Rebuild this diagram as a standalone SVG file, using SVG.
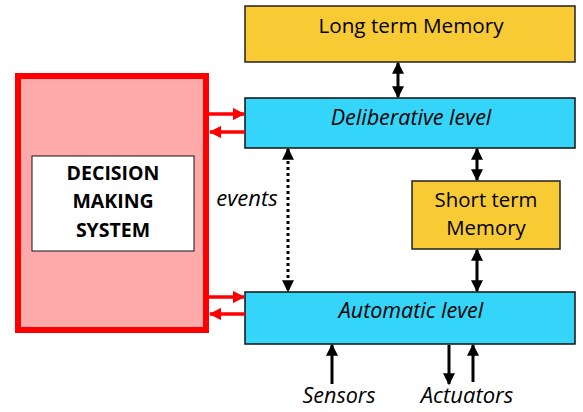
<svg xmlns="http://www.w3.org/2000/svg" width="583" height="412" viewBox="0 0 583 412">
<defs>
<marker id="ah" viewBox="0 0 10 10" refX="9" refY="5" markerWidth="4" markerHeight="4" orient="auto-start-reverse"><path d="M0,0 L10,5 L0,10 z" fill="#000"/></marker>
<marker id="ar" viewBox="0 0 10 10" refX="9" refY="5" markerWidth="3.5" markerHeight="3.5" orient="auto"><path d="M0,0 L10,5 L0,10 z" fill="#f00"/></marker>
<style>
.mem{fill:#F8CB35;stroke:#222;stroke-width:1.5}
.lvl{fill:#35D5FA;stroke:#111;stroke-width:1.5}
.t{font-family:"Open Sans","Liberation Sans",sans-serif;fill:#000;text-anchor:middle}
.i{font-style:italic}
.b{stroke:#000;stroke-width:3;fill:none}
.r{stroke:#f00;stroke-width:3.5;fill:none}
</style>
</defs>
<g id="dms">
<rect x="18" y="76" width="188" height="254" fill="#FEAAAA" stroke="#F00" stroke-width="6"/>
<rect x="32" y="156" width="162" height="95" fill="#fff" stroke="#111" stroke-width="1"/>
<text class="t" font-size="19.5" font-weight="bold" x="113" y="180">DECISION</text>
<text class="t" font-size="19.5" font-weight="bold" x="113" y="208">MAKING</text>
<text class="t" font-size="19.5" font-weight="bold" x="113" y="237">SYSTEM</text>
</g>
<g id="ltm">
<rect class="mem" x="245" y="6" width="330" height="56"/>
<text class="t" font-size="20.7" x="411" y="33">Long term Memory</text>
</g>
<g id="delib">
<rect class="lvl" x="245" y="98" width="330" height="50"/>
<text class="t i" font-size="21.5" x="411" y="125">Deliberative level</text>
</g>
<g id="stm">
<rect class="mem" x="412" y="181" width="148" height="68"/>
<text class="t" font-size="20.4" x="486" y="207">Short term</text>
<text class="t" font-size="20.4" x="486" y="235">Memory</text>
</g>
<g id="auto">
<rect class="lvl" x="245" y="292" width="330" height="52"/>
<text class="t i" font-size="21.5" x="411" y="318">Automatic level</text>
</g>
<g id="connectors">
<line class="b" x1="398" y1="63" x2="398" y2="97" marker-start="url(#ah)" marker-end="url(#ah)"/>
<line class="b" x1="477" y1="149" x2="477" y2="180" marker-start="url(#ah)" marker-end="url(#ah)"/>
<line class="b" x1="477" y1="250" x2="477" y2="291" marker-start="url(#ah)" marker-end="url(#ah)"/>
<line x1="288" y1="149" x2="288" y2="291" stroke="#000" stroke-width="3" stroke-dasharray="3,3" marker-start="url(#ah)" marker-end="url(#ah)"/>
<line class="r" x1="209" y1="114" x2="244" y2="114" marker-end="url(#ar)"/>
<line class="r" x1="245" y1="132" x2="210" y2="132" marker-end="url(#ar)"/>
<line class="r" x1="209" y1="297" x2="244" y2="297" marker-end="url(#ar)"/>
<line class="r" x1="245" y1="314" x2="210" y2="314" marker-end="url(#ar)"/>
<line class="b" x1="332" y1="384" x2="332" y2="345" marker-end="url(#ah)"/>
<line class="b" x1="449" y1="345" x2="449" y2="384" marker-end="url(#ah)"/>
<line class="b" x1="473" y1="382" x2="473" y2="345" marker-end="url(#ah)"/>
</g>
<text class="t i" font-size="22" x="247" y="206">events</text>
<text class="t i" font-size="21.5" x="339" y="403">Sensors</text>
<text class="t i" font-size="22" x="467" y="403">Actuators</text>
</svg>
